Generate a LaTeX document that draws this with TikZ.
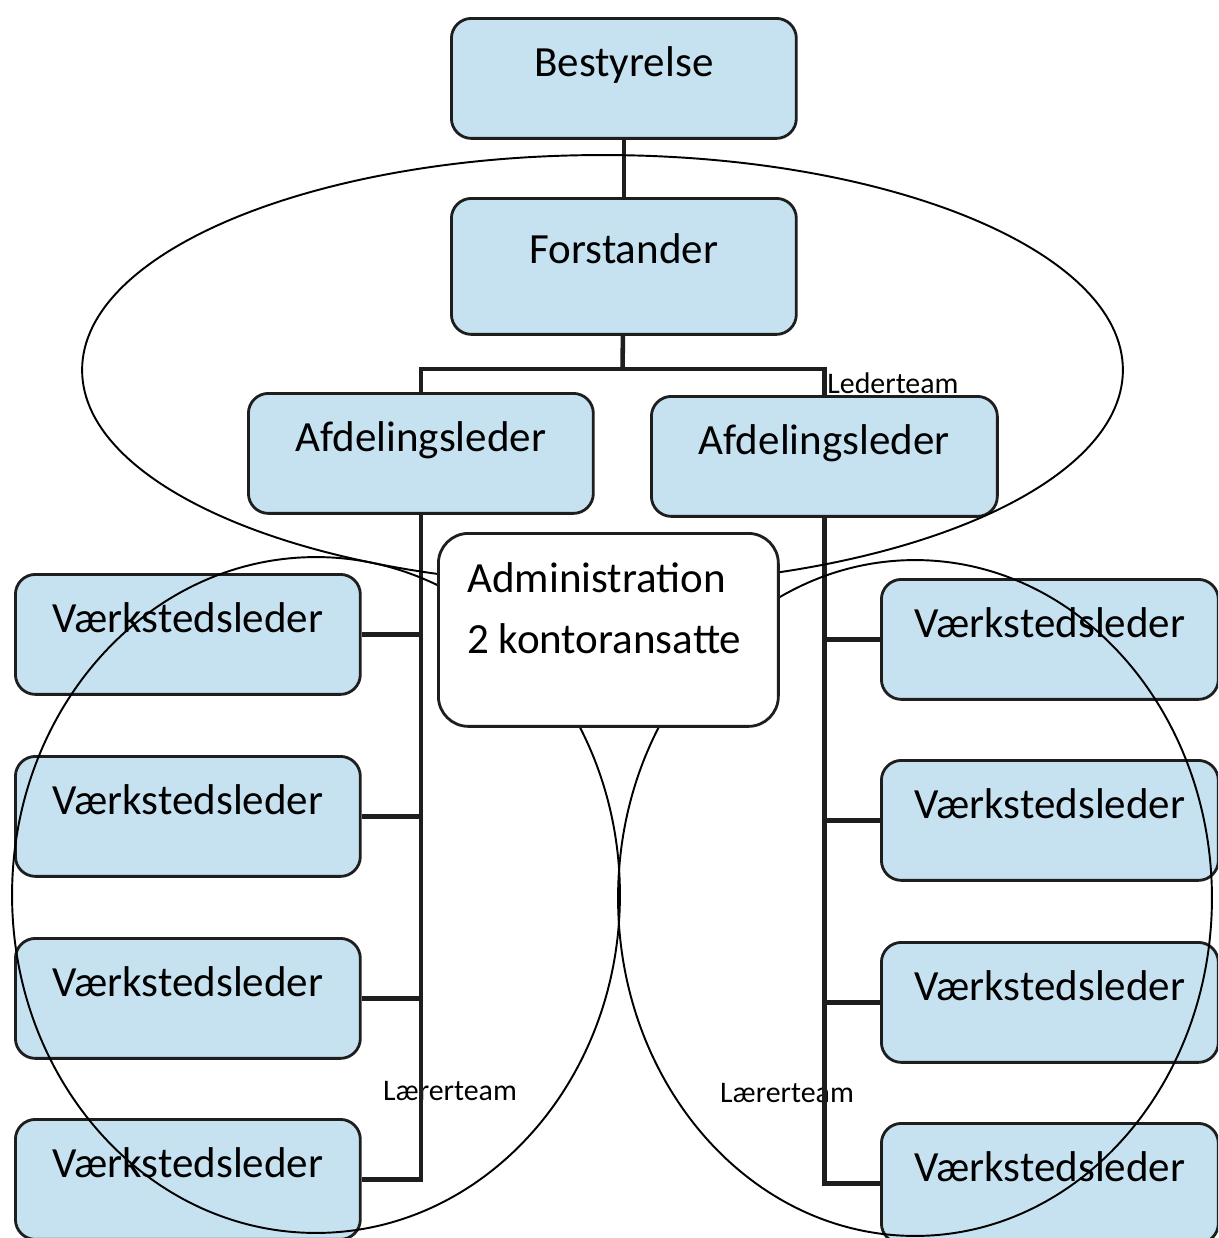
\documentclass[tikz,border=0pt]{standalone}
\usepackage{fontspec}
\setmainfont{Carlito}
\usepackage{tikz}
\usetikzlibrary{positioning}
\definecolor{boxblue}{RGB}{198,226,240}
\definecolor{linedark}{RGB}{30,30,30}

\begin{document}
\begin{tikzpicture}[x=0.02cm, y=-0.02cm]
    % Define styles
    \tikzstyle{orgbox} = [rectangle, rounded corners=0.4cm, anchor=north west, minimum width=6.9cm, inner sep=0pt, text height=1.16cm, text depth=1.24cm, draw=linedark, line width=1.6pt, fill=boxblue, font=\fontsize{24.5}{29}\selectfont]
    \tikzstyle{adminbox} = [rectangle, rounded corners=0.6cm, anchor=north west, minimum width=6.8cm, minimum height=3.86cm, draw=linedark, line width=1.6pt, fill=white]
    \tikzstyle{link} = [draw=linedark, line width=2.6pt]
    \tikzstyle{team} = [draw=black, line width=1.1pt]
    \tikzstyle{teamlabel} = [inner sep=0pt, font=\fontsize{17}{20}\selectfont]

    \path[use as bounding box, clip] (0,0) rectangle (1218,1238);

    % Labels under the lines
    \node[teamlabel] (teamL) at (450,1091) {Lærerteam};
    \node[teamlabel] (teamR) at (787,1093) {Lærerteam};
    \node[teamlabel, anchor=west] (leder) at (827,383) {Lederteam};

    % Nodes
    \node[orgbox] (best) at (450,17) {Bestyrelse};
    \node[orgbox, text height=1.3cm, text depth=1.42cm] (forst) at (450,197) {Forstander};
    \node[orgbox] (afdL) at (247,392) {Afdelingsleder};
    \node[orgbox, minimum width=6.92cm] (afdR) at (650,395) {Afdelingsleder};
    \foreach \i/\y in {1/573,2/755,3/937,4/1118}
        \node[orgbox] (vL\i) at (14,\y) {Værkstedsleder};
    \foreach \i/\y in {1/578,2/759,3/941,4/1122}
        \node[orgbox, minimum width=6.74cm] (vR\i) at (880,\y) {Værkstedsleder};

    % Connections
    \coordinate (split) at (622.5,369);
    \draw[link] (best) -- (forst);
    \draw[link] (forst) -- (split);
    \draw[link] (split) -| (afdL);
    \draw[link] (split) -| (afdR);
    \draw[link] (afdL) |- (vL4);
    \draw[link] (afdR) |- (vR4);
    \foreach \i in {1,2,3} {
        \draw[link] (vL\i) -- (vL\i.east -| afdL.south);
        \draw[link] (vR\i) -- (vR\i.west -| afdR.south);
    }

    % Teams
    \draw[team] (602.5,370) ellipse [x radius=10.41cm, y radius=4.3cm];
    \draw[team] (316,895) ellipse [x radius=6.08cm, y radius=6.76cm];
    \draw[team] (915,898) ellipse [x radius=5.94cm, y radius=6.76cm];

    % Administration on top
    \node[adminbox] (admin) at (437,532) {};
    \node[anchor=west, align=left, inner sep=0pt, font=\fontsize{24.5}{35}\selectfont] (admintxt) at (467,608) {Administration\\2 kontoransatte};
\end{tikzpicture}
\end{document}
